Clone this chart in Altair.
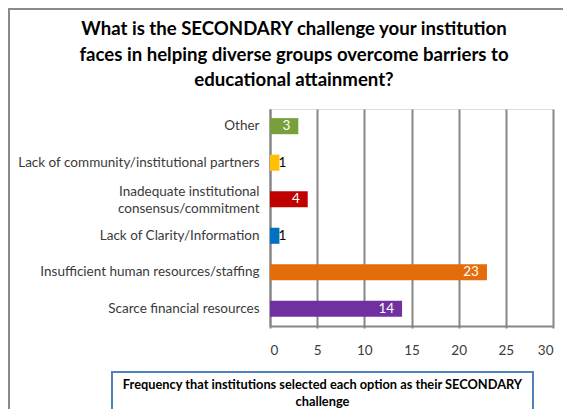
import altair as alt
import pandas as pd

categories = [
    "Other",
    "Lack of community/institutional  partners",
    "Inadequate institutional|consensus/commitment",
    "Lack of Clarity/Information",
    "Insufficient human resources/staffing",
    "Scarce financial resources",
]
values = [3, 1, 4, 1, 23, 14]
bar_colors = ["#77a03a", "#ffc000", "#c00000", "#0070c0", "#e46c0a", "#7030a0"]
x_ticks = [0, 5, 10, 15, 20, 25, 30]
title_lines = [
    "What is the SECONDARY challenge your institution",
    "faces in helping diverse groups overcome barriers to",
    "educational attainment?",
]
x_title_lines = [
    "Frequency that institutions selected each option as their SECONDARY",
    "challenge",
]

df = pd.DataFrame({"cat": categories, "value": values})

FONT = "Lato"
GRID = "#868686"

y_enc = alt.Y(
    "cat:N",
    sort=categories,
    scale=alt.Scale(paddingInner=0.56, paddingOuter=0.25),
    axis=alt.Axis(
        title=None,
        labelExpr="split(datum.label, '|')",
        labelLineHeight=17,
        labelFontSize=13.5,
        labelFont=FONT,
        labelColor="#3a3a3a",
        labelPadding=11,
        labelLimit=400,
        labelOffset=alt.condition("indexof(datum.value, '|') >= 0", alt.value(-7), alt.value(0)),
        tickSize=0,
        domainColor=GRID,
        domainWidth=2,
        grid=False,
    ),
)

x_enc = alt.X(
    "value:Q",
    scale=alt.Scale(domain=[0, 30], nice=False),
    axis=alt.Axis(
        values=x_ticks,
        title=x_title_lines,
        titleFont=FONT,
        titleFontSize=12.8,
        titleFontWeight="bold",
        titleColor="#000000",
        titleLineHeight=17,
        titleX=52,
        titleY=58.5,
        titleAlign="center",
        titleBaseline="middle",
        labelFontSize=13.5,
        labelFont=FONT,
        labelColor="#3a3a3a",
        labelPadding=15,
        tickSize=2,
        tickColor=GRID,
        tickWidth=2,
        domainColor=GRID,
        domainWidth=2,
        grid=True,
        gridColor=GRID,
        gridWidth=2,
    ),
)

bars = alt.Chart(df).mark_bar().encode(
    x=x_enc,
    y=y_enc,
    color=alt.Color("cat:N", scale=alt.Scale(domain=categories, range=bar_colors), legend=None),
)

labels_in = alt.Chart(df).transform_filter(alt.datum.value > 1).mark_text(
    align="right", baseline="middle", dx=-8, font=FONT, fontSize=13.5, color="white"
).encode(x="value:Q", y=alt.Y("cat:N", sort=categories), text="value:Q")

labels_out = alt.Chart(df).transform_filter(alt.datum.value <= 1).mark_text(
    align="left", baseline="middle", dx=-1, font=FONT, fontSize=13.5, color="black"
).encode(x="value:Q", y=alt.Y("cat:N", sort=categories), text="value:Q")

one = alt.Data(values=[{"k": 1}])

title_mark = alt.Chart(one).mark_text(
    align="center", baseline="middle", font=FONT, fontSize=18.6, fontWeight="bold",
    color="black", lineHeight=25.5
).encode(x=alt.value(24), y=alt.value(-80), text=alt.value(title_lines))

outer_box = alt.Chart(one).mark_rect(
    fill=None, stroke="#8a8a8a", strokeWidth=2, clip=False
).encode(x=alt.value(-261), x2=alt.value(400), y=alt.value(-100), y2=alt.value(400))

title_box = alt.Chart(one).mark_rect(
    fill=None, stroke="#4f81bd", strokeWidth=2
).encode(x=alt.value(-158), x2=alt.value(263), y=alt.value(263), y2=alt.value(330))

chart = alt.layer(
    outer_box, title_box, bars, labels_in, labels_out, title_mark
).properties(
    width=283,
    height=217,
    autosize=alt.AutoSizeParams(type="none"),
    padding={"left": 262, "top": 101, "right": 10, "bottom": 83},
).configure_view(stroke=None).configure(background="white")

chart.save("out.html", embed_options={"renderer": "svg", "actions": False})
